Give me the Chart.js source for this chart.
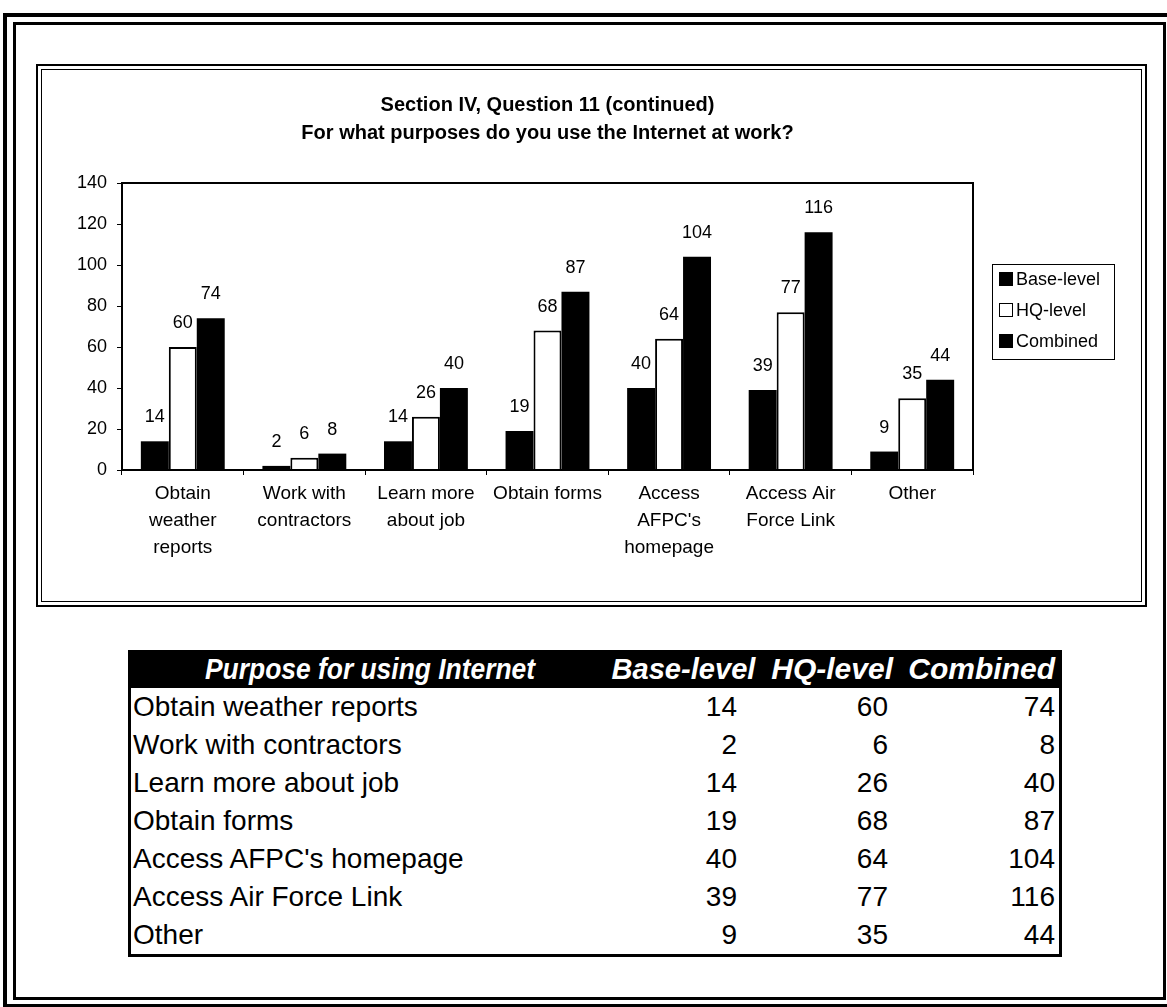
<!DOCTYPE html>
<html>
<head>
<meta charset="utf-8">
<script src="https://cdn.jsdelivr.net/npm/chart.js@4.4.0/dist/chart.umd.min.js"></script>
<style>
  body { margin: 0; background: #fff; font-family: 'Liberation Sans', Arial, sans-serif; color: #000; }
  #page { position: relative; width: 1167px; height: 1007px; overflow: hidden; background: #fff; }
  .frame { position: absolute; box-sizing: border-box; border-style: solid; border-color: #000; }
  #chartWrap { position: absolute; left: 44px; top: 72px; width: 1096px; height: 526px; }
  #legend { position: absolute; left: 992px; top: 264px; width: 123px; height: 96px; box-sizing: border-box;
            border: 1px solid #000; font-size: 18px; }
  #legend .item { position: absolute; left: 6px; height: 20px; line-height: 20px; white-space: nowrap; }
  #legend .sw { display: inline-block; width: 14px; height: 14px; box-sizing: border-box; border: 1px solid #000;
                vertical-align: -1px; margin-right: 3px; }
  #tbl { position: absolute; left: 128px; top: 650px; width: 934px; box-sizing: border-box;
         border: 3px solid #000; border-top: none; }
  #tbl table { border-collapse: collapse; table-layout: fixed; width: 100%; }
  #tbl th { background: #000; color: #fff; font-family: 'Liberation Sans Narrow', 'Liberation Sans', Arial, sans-serif;
            font-weight: bold; font-style: italic; font-size: 30px; height: 38px; padding: 0; text-align: right; white-space: nowrap; }
  #tbl th span { display: inline-block; transform-origin: right center; }
  #tbl td { font-size: 28px; height: 38px; line-height: 38px; padding: 0; white-space: nowrap; text-align: right; }
  #tbl td.lab { text-align: left; padding-left: 2px; }
</style>
</head>
<body>
<div id="page">
  <div class="frame" style="left:3px;top:13px;width:1185px;height:995px;border-width:4px;"></div>
  <div class="frame" style="left:13px;top:22px;width:1153px;height:978px;border-width:3px;"></div>
  <div class="frame" style="left:36px;top:64px;width:1111px;height:543px;border-width:2px;"></div>
  <div class="frame" style="left:41px;top:69px;width:1101px;height:533px;border-width:1px;"></div>

  <div id="chartWrap"><canvas id="chart" width="1096" height="526"></canvas></div>
  <div id="legend"></div>

  <div id="tbl">
    <table>
      <colgroup><col style="width:469px"><col style="width:160px"><col style="width:138px"><col style="width:161px"></colgroup>
      <thead><tr id="headRow"></tr></thead>
      <tbody id="tbody"></tbody>
    </table>
  </div>
</div>

<script>
// data
const purposeLines = [
  ['Obtain', 'weather', 'reports'],
  ['Work with', 'contractors'],
  ['Learn more', 'about job'],
  ['Obtain forms'],
  ['Access', "AFPC's", 'homepage'],
  ['Access Air', 'Force Link'],
  ['Other']
];
const seriesNames = ['Base-level', 'HQ-level', 'Combined'];
const baseLevel = [14, 2, 14, 19, 40, 39, 9];
const hqLevel   = [60, 6, 26, 68, 64, 77, 35];
const combined  = [74, 8, 40, 87, 104, 116, 44];
const yTicks = [0, 20, 40, 60, 80, 100, 120, 140];
const tableHeader = ['Purpose for using Internet', 'Base-level', 'HQ-level', 'Combined'];

const purposes = purposeLines.map(l => l.join(' '));
const FONT = "'Liberation Sans', Arial, sans-serif";

// plot area frame
const plotFrame = {
  id: 'plotFrame',
  afterDraw(chart) {
    const ctx = chart.ctx, a = chart.chartArea;
    ctx.save();
    ctx.strokeStyle = '#000';
    ctx.lineWidth = 2;
    ctx.strokeRect(a.left, a.top, a.right - a.left, a.bottom - a.top);
    ctx.restore();
  }
};

// numbers above bars
const valueLabels = {
  id: 'valueLabels',
  afterDatasetsDraw(chart) {
    const ctx = chart.ctx;
    ctx.save();
    ctx.font = '18px ' + FONT;
    ctx.fillStyle = '#000';
    ctx.textAlign = 'center';
    ctx.textBaseline = 'middle';
    chart.data.datasets.forEach((ds, i) => {
      chart.getDatasetMeta(i).data.forEach((bar, j) => {
        ctx.fillText(ds.data[j], bar.x, bar.y - 24);
      });
    });
    ctx.restore();
  }
};

const fills = ['#000', '#fff', '#000'];

const chart = new Chart(document.getElementById('chart'), {
  type: 'bar',
  data: {
    labels: purposeLines,
    datasets: [baseLevel, hqLevel, combined].map((d, i) => ({
      label: seriesNames[i],
      data: d,
      backgroundColor: fills[i],
      borderColor: '#000',
      borderWidth: i === 1 ? 2 : 0,
      categoryPercentage: 0.69,
      barPercentage: 1.0
    }))
  },
  options: {
    responsive: false,
    animation: false,
    layout: { padding: { left: 0, right: 167, top: 0, bottom: 28 } },
    plugins: {
      legend: { display: false },
      tooltip: { enabled: false },
      title: {
        display: true,
        fullSize: false,
        text: ['Section IV, Question 11 (continued)', 'For what purposes do you use the Internet at work?'],
        color: '#000',
        font: { family: FONT, size: 20, weight: 'bold', lineHeight: '28px' },
        padding: { top: 19, bottom: 36 }
      }
    },
    scales: {
      x: {
        grid: { display: true, drawOnChartArea: false, drawTicks: true, tickLength: 5, color: '#000', lineWidth: 1 },
        border: { display: true, color: '#000', width: 2 },
        ticks: { color: '#000', font: { family: FONT, size: 19, lineHeight: '27px' }, padding: 5,
                 maxRotation: 0, autoSkip: false },
        afterFit(scale) { scale.height = 100; }
      },
      y: {
        min: 0, max: 140,
        afterBuildTicks(scale) { scale.ticks = yTicks.map(v => ({ value: v })); },
        grid: { display: true, drawOnChartArea: false, drawTicks: true, tickLength: 5, color: '#000', lineWidth: 1 },
        border: { display: true, color: '#000', width: 2 },
        ticks: { color: '#000', font: { family: FONT, size: 18 }, padding: 10 },
        afterFit(scale) { scale.width = 78; }
      }
    }
  },
  plugins: [plotFrame, valueLabels]
});

// legend
const legend = document.getElementById('legend');
seriesNames.forEach((name, i) => {
  const it = document.createElement('div');
  it.className = 'item';
  it.style.top = (4 + i * 31) + 'px';
  it.innerHTML = '<span class="sw" style="background:' + fills[i] + '"></span>' + name;
  legend.appendChild(it);
});

// table
const headRow = document.getElementById('headRow');
const headPad = [65, 5, 5, 4];
const headSquash = [0.88, 0.97, 1, 1];
tableHeader.forEach((h, i) => {
  const th = document.createElement('th');
  const sp = document.createElement('span');
  sp.textContent = h;
  sp.style.transform = 'scaleX(' + headSquash[i] + ')';
  th.appendChild(sp);
  th.style.paddingRight = headPad[i] + 'px';
  headRow.appendChild(th);
});
const tbody = document.getElementById('tbody');
const numPad = [23, 10, 4];
purposes.forEach((p, j) => {
  const tr = document.createElement('tr');
  const td = document.createElement('td');
  td.className = 'lab';
  td.textContent = p;
  tr.appendChild(td);
  [baseLevel, hqLevel, combined].forEach((arr, k) => {
    const c = document.createElement('td');
    c.textContent = arr[j];
    c.style.paddingRight = numPad[k] + 'px';
    tr.appendChild(c);
  });
  tbody.appendChild(tr);
});
</script>
</body>
</html>
